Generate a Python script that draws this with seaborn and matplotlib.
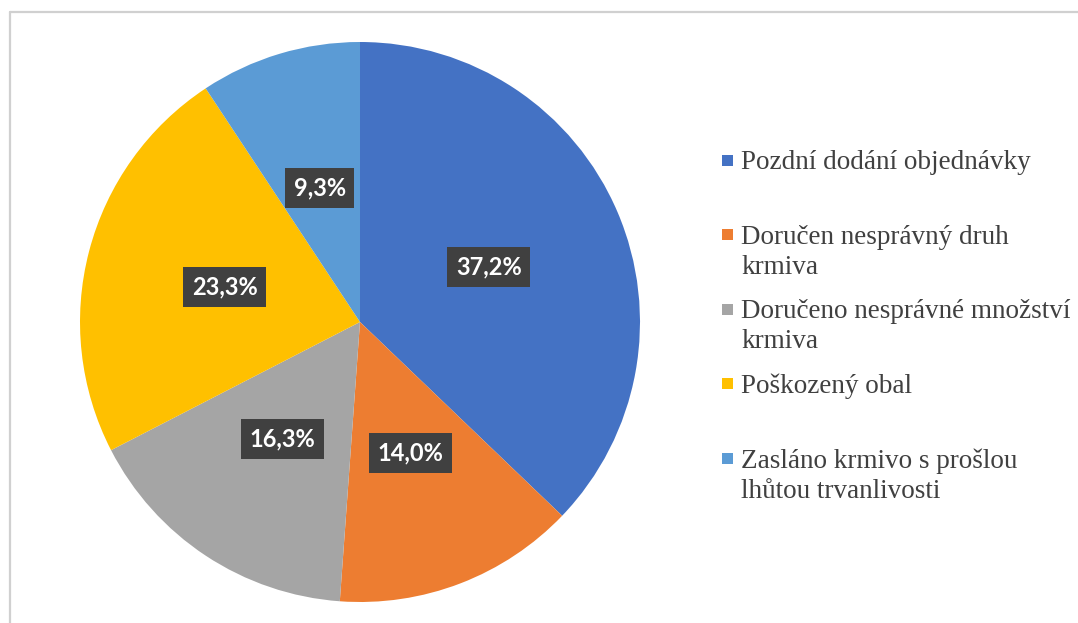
import matplotlib
matplotlib.use("Agg")
import matplotlib.pyplot as plt
import seaborn as sns
from matplotlib.lines import Line2D
from matplotlib.patches import Rectangle

categories = [
    "Pozdní dodání objednávky",
    "Doručen nesprávný druh\nkrmiva",
    "Doručeno nesprávné množství\nkrmiva",
    "Poškozený obal",
    "Zasláno krmivo s prošlou\nlhůtou trvanlivosti",
]
shares = [37.2, 14.0, 16.3, 23.3, 9.3]
colors = ["#4472C4", "#ED7D31", "#A5A5A5", "#FFC000", "#5B9BD5"]

sns.set_theme(style="white")

W, H = 1078, 623
fig = plt.figure(figsize=(W / 100, H / 100), dpi=100)

# pie centred at (360, 322) px with radius 280 px
cx, cy, r = 360, 322, 280
ax = fig.add_axes([(cx - r) / W, (H - cy - r) / H, 2 * r / W, 2 * r / H])
wedges, texts, autotexts = ax.pie(
    shares, colors=colors, startangle=90, counterclock=False,
    autopct=lambda p: f"{p:.1f}%".replace(".", ","), pctdistance=0.5,
    wedgeprops=dict(linewidth=0),
    textprops=dict(color="white", fontsize=17, fontweight="bold", family="Lato"),
)
for t in autotexts:
    t.set_bbox(dict(facecolor="#404040", edgecolor="none", boxstyle="square,pad=0.36"))
ax.set_xlim(-1, 1)
ax.set_ylim(-1, 1)
ax.axis("off")

# legend drawn by hand so the spacing matches the original
for i, (lab, col) in enumerate(zip(categories, colors)):
    yc = 160 + 74.5 * i
    fig.add_artist(Rectangle((722 / W, 1 - (yc + 5.5) / H), 11 / W, 11 / H,
                             transform=fig.transFigure, facecolor=col, edgecolor="none"))
    fig.text(741 / W, 1 - (yc - 10) / H, lab, ha="left", va="top",
             fontsize=19.5, family="Liberation Serif", color="#404040", linespacing=1.28)

# outer chart frame (left and top edges visible)
fig.add_artist(Line2D([9.5 / W, 9.5 / W], [0, 1 - 12 / H], transform=fig.transFigure,
                      color="#D0D0D0", lw=1.6))
fig.add_artist(Line2D([9.5 / W, 1], [1 - 12 / H, 1 - 12 / H], transform=fig.transFigure,
                      color="#D0D0D0", lw=1.6))

fig.savefig("out.png", dpi=100)
